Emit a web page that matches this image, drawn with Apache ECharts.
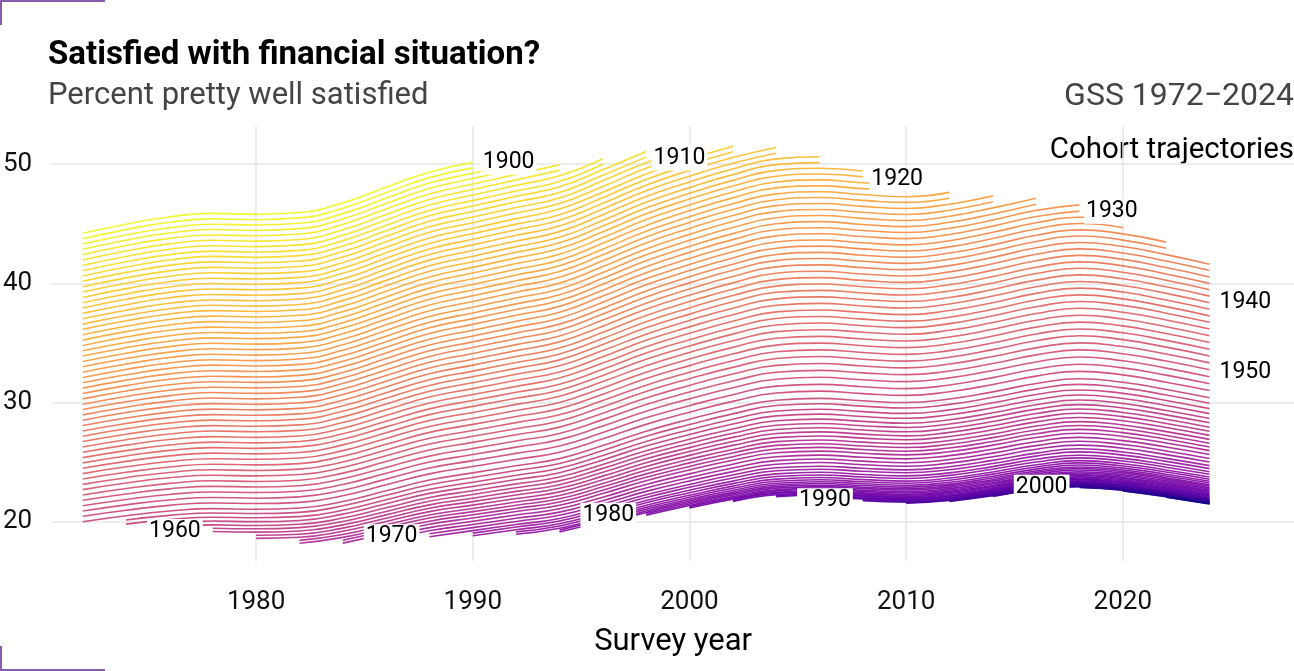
<!DOCTYPE html>
<html>
<head>
<meta charset="utf-8">
<script src="https://cdn.jsdelivr.net/npm/echarts@6/dist/echarts.min.js"></script>
<style>
  html, body { margin: 0; padding: 0; background: #fff; }
  #chart { width: 1294px; height: 671px; }
</style>
</head>
<body>
<div id="chart"></div>
<script>
// survey years each cohort is drawn at (every other year)
const surveyYears = [1972, 1974, 1976, 1978, 1980, 1982, 1984, 1986, 1988, 1990,
  1992, 1994, 1996, 1998, 2000, 2002, 2004, 2006, 2008, 2010,
  2012, 2014, 2016, 2018, 2020, 2022, 2024];

// the 1954 cohort's line (percent); the other cohorts move with it
const refLine = [20.0, 20.5, 20.9, 21.1, 21.05, 21.15, 21.7, 22.6, 23.5, 24.1,
  24.7, 25.3, 26.4, 27.6, 28.6, 29.5, 30.2, 30.35, 30.15, 30.0,
  30.3, 30.9, 31.6, 32.0, 31.7, 31.1, 30.4];

// birth cohorts 1900..2006 and the value where each line starts (percent)
const firstCohort = 1900;
const cohortStart = [
  44.20, 43.75, 43.30, 42.86, 42.41, 41.96, 41.51, 41.06, 40.62, 40.17,
  39.72, 39.27, 38.82, 38.38, 37.93, 37.48, 37.03, 36.58, 36.14, 35.69,
  35.24, 34.79, 34.34, 33.90, 33.45, 33.00, 32.55, 32.10, 31.66, 31.21,
  30.76, 30.31, 29.86, 29.42, 28.97, 28.52, 28.07, 27.62, 27.18, 26.73,
  26.28, 25.83, 25.38, 24.94, 24.49, 24.04, 23.59, 23.14, 22.70, 22.25,
  21.80, 21.35, 20.90, 20.46, 20.00, 20.15, 19.80, 19.87, 19.55, 19.46,
  19.18, 18.87, 18.61, 18.44, 18.20, 18.45, 18.21, 18.73, 18.47, 19.00,
  18.75, 19.05, 18.83, 19.15, 18.96, 19.30, 19.15, 19.92, 19.80, 20.67,
  20.55, 21.27, 21.16, 21.81, 21.71, 22.19, 22.10, 22.16, 22.08, 21.84,
  21.77, 21.60, 21.55, 21.74, 21.71, 22.16, 22.12, 22.65, 22.62, 22.91,
  22.89, 22.61, 22.59, 22.08, 22.06, 21.47, 21.45
];
const minAge = 18;
const maxAge = 90;

const labelledAtEnd = [1900, 1910, 1920, 1930, 1940, 1950];
const labelledAtStart = [1960, 1970, 1980, 1990, 2000];

const xTicks = [1980, 1990, 2000, 2010, 2020];
const yTicks = [20, 30, 40, 50];

// plasma colour ramp
const plasma = ['#0d0887', '#41049d', '#6a00a8', '#8f0da4', '#b12a90', '#cc4778',
  '#e16462', '#f2844b', '#fca636', '#fcce25', '#f0f921'];

function hexToRgb(h) {
  return [parseInt(h.slice(1, 3), 16), parseInt(h.slice(3, 5), 16), parseInt(h.slice(5, 7), 16)];
}
function rampColor(f) {
  let p = f * (plasma.length - 1);
  let i = Math.min(Math.floor(p), plasma.length - 2);
  let t = p - i;
  let a = hexToRgb(plasma[i]), b = hexToRgb(plasma[i + 1]);
  let c = a.map((v, k) => Math.round(v + (b[k] - v) * t));
  return 'rgba(' + c[0] + ',' + c[1] + ',' + c[2] + ',0.92)';
}

const logit = (p) => Math.log(p / (100 - p));
const unlogit = (z) => 100 / (1 + Math.exp(-z));

const lastCohort = firstCohort + cohortStart.length - 1;
const cohortLines = {};
const series = [];

cohortStart.forEach((startVal, i) => {
  let cohort = firstCohort + i;
  let idx = [];
  surveyYears.forEach((yr, j) => {
    let age = yr - cohort;
    if (age >= minAge && age <= maxAge) idx.push(j);
  });
  if (!idx.length) return;
  let shift = logit(startVal) - logit(refLine[idx[0]]);
  let data = idx.map((j) => [surveyYears[j], +unlogit(logit(refLine[j]) + shift).toFixed(2)]);
  cohortLines[cohort] = data;
  series.push({
    name: String(cohort),
    type: 'line',
    data: data,
    showSymbol: false,
    smooth: 0.5,
    silent: true,
    z: 2,
    lineStyle: {
      color: rampColor((lastCohort - cohort) / (lastCohort - firstCohort)),
      width: 1.6
    }
  });
});

// cohort labels
const labelStyle = {
  1900: { position: 'right', distance: 8, offset: [0, 0] },
  1910: { position: 'inside', offset: [-10, 10] },
  1920: { position: 'inside', offset: [-9, -6] },
  1930: { position: 'inside', offset: [-11, -10] },
  1940: { position: 'right', distance: 8, offset: [0, 0] },
  1950: { position: 'right', distance: 8, offset: [0, 2] }
};
const labelData = [];
labelledAtEnd.forEach((c) => {
  let d = cohortLines[c];
  let pt = d[d.length - 1];
  labelData.push({ value: pt, name: String(c), label: labelStyle[c] });
});
labelledAtStart.forEach((c) => {
  let pt = cohortLines[c][0];
  labelData.push({ value: pt, name: String(c), label: { position: 'left', distance: 10 } });
});

series.push({
  type: 'scatter',
  data: labelData,
  symbolSize: 0,
  silent: true,
  z: 10,
  itemStyle: { opacity: 1 },
  label: {
    show: true,
    formatter: '{b}',
    fontFamily: 'Roboto',
    fontSize: 23,
    color: '#000',
    opacity: 1,
    backgroundColor: '#ffffff',
    padding: [1, 2]
  }
});

let myChart = echarts.init(document.getElementById('chart'));
let option;

option = {
  animation: false,
  backgroundColor: '#fff',
  textStyle: { fontFamily: 'Roboto' },
  grid: { left: 52, right: 0, top: 126, bottom: 110 },
  xAxis: {
    type: 'value',
    min: 1970.59,
    max: 2027.9,
    name: 'Survey year',
    nameLocation: 'middle',
    nameGap: 66,
    nameTextStyle: { fontFamily: 'Roboto', fontSize: 31, color: '#000' },
    axisLine: { show: false },
    axisTick: { show: false, customValues: xTicks },
    axisLabel: {
      customValues: xTicks, fontFamily: 'Roboto', fontSize: 26, color: '#111', margin: 28,
      formatter: (v) => String(v)
    },
    splitLine: { show: true, lineStyle: { color: '#e6e6e6', width: 1.5 } }
  },
  yAxis: {
    type: 'value',
    min: 16.71,
    max: 53.2,
    axisLine: { show: false },
    axisTick: { show: false, customValues: yTicks },
    axisLabel: { customValues: yTicks, fontFamily: 'Roboto', fontSize: 26, color: '#111', margin: 20, padding: [8, 0, 0, 0] },
    splitLine: { show: true, lineStyle: { color: '#e6e6e6', width: 1.5 } }
  },
  graphic: {
    elements: [
      { type: 'text', left: 48, top: 39, style: { text: 'Satisfied with financial situation?', font: 'bold 33px Roboto', fill: '#000' } },
      { type: 'text', left: 48, top: 81, style: { text: 'Percent pretty well satisfied', font: '31px Roboto', fill: '#444' } },
      { type: 'text', right: 0, top: 81, style: { text: 'GSS 1972\u22122024', font: '32px Roboto', fill: '#444' } },
      { type: 'text', right: 0, top: 136, style: { text: 'Cohort trajectories', font: '29.5px Roboto', fill: '#000' } },
      { type: 'polyline', shape: { points: [[105, 1], [1, 1], [1, 25]] }, style: { stroke: '#8a5cb0', lineWidth: 2, fill: null } },
      { type: 'polyline', shape: { points: [[1, 646], [1, 670], [105, 670]] }, style: { stroke: '#8a5cb0', lineWidth: 2, fill: null } }
    ]
  },
  series: series
};

option && myChart.setOption(option);
</script>
</body>
</html>
